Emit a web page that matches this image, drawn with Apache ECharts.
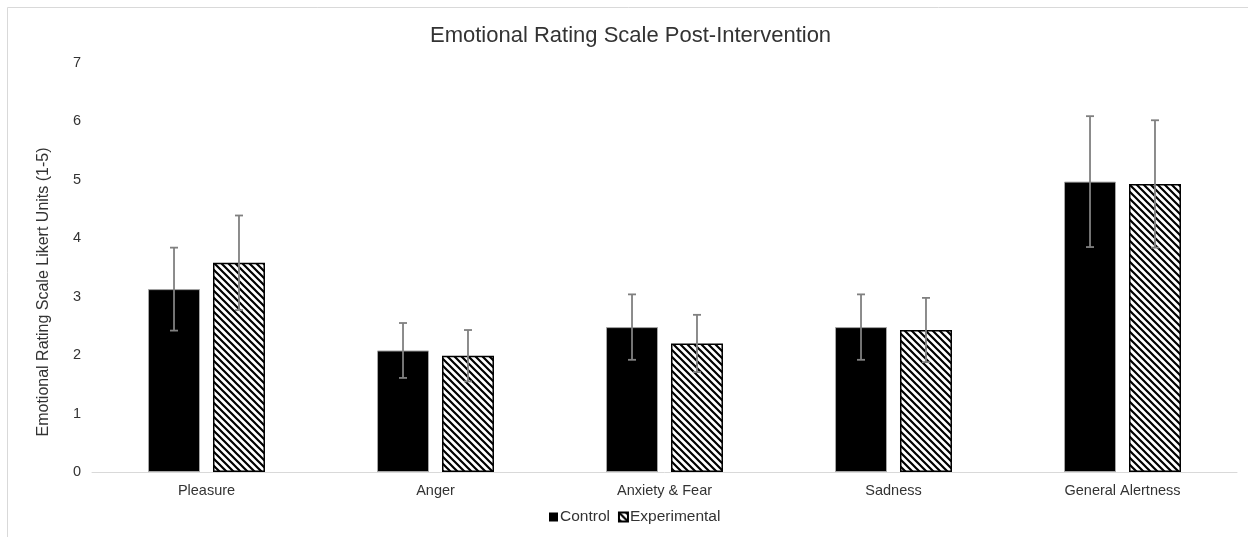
<!DOCTYPE html>
<html>
<head>
<meta charset="utf-8">
<script src="https://cdn.jsdelivr.net/npm/echarts@6/dist/echarts.min.js"></script>
<style>html,body{margin:0;padding:0;background:#fff;}#c{width:1248px;height:537px;}</style>
</head>
<body>
<div id="c"></div>
<script>
var categories = ['Pleasure', 'Anger', 'Anxiety & Fear', 'Sadness', 'General Alertness'];
var controlValues = [3.13, 2.08, 2.48, 2.48, 4.97];
var controlErrors = [0.71, 0.47, 0.56, 0.56, 1.12];
var experimentalValues = [3.58, 1.99, 2.20, 2.43, 4.93];
var experimentalErrors = [0.81, 0.44, 0.49, 0.55, 1.09];
var seriesNames = ['Control', 'Experimental'];
var yTicks = [0, 1, 2, 3, 4, 5, 6, 7];

var FONT = 'Liberation Sans, Arial, sans-serif';

function makeHatch() {
  var s = 7;
  var c = document.createElement('canvas');
  c.width = s; c.height = s;
  var ctx = c.getContext('2d');
  ctx.fillStyle = '#fff';
  ctx.fillRect(0, 0, s, s);
  ctx.strokeStyle = '#000';
  ctx.lineWidth = 2.2;
  ctx.beginPath();
  ctx.moveTo(-s, 0); ctx.lineTo(s, 2 * s);
  ctx.moveTo(0, 0); ctx.lineTo(s, s);
  ctx.moveTo(0, -s); ctx.lineTo(2 * s, s);
  ctx.stroke();
  return c;
}
var hatch = { image: makeHatch(), repeat: 'repeat' };

var BAR_W = 0.227, GAP = 0.25;
function errSeries(values, errors, side) {
  var data = values.map(function (v, i) { return [i, v - errors[i], v + errors[i]]; });
  return {
    type: 'custom',
    z: 10,
    silent: true,
    data: data,
    renderItem: function (params, api) {
      var bw = api.size([1, 0])[0];
      var w = bw * BAR_W;
      var off = side * w * (0.5 + GAP / 2);
      var lo = api.coord([api.value(0), api.value(1)]);
      var hi = api.coord([api.value(0), api.value(2)]);
      var x = lo[0] + off;
      var cap = 4;
      var st = { stroke: '#808080', lineWidth: 1.8 };
      return {
        type: 'group',
        children: [
          { type: 'line', shape: { x1: x, y1: lo[1], x2: x, y2: hi[1] }, style: st },
          { type: 'line', shape: { x1: x - cap, y1: lo[1], x2: x + cap, y2: lo[1] }, style: st },
          { type: 'line', shape: { x1: x - cap, y1: hi[1], x2: x + cap, y2: hi[1] }, style: st }
        ]
      };
    }
  };
}

var chart = echarts.init(document.getElementById('c'), null, { renderer: 'canvas' });
chart.setOption({
  animation: false,
  backgroundColor: '#fff',
  textStyle: { fontFamily: FONT },
  title: {
    text: 'Emotional Rating Scale Post-Intervention',
    left: 425,
    top: 20,
    textStyle: { fontSize: 22, fontWeight: 'normal', color: '#333', fontFamily: FONT }
  },
  graphic: [
    { type: 'rect', shape: { x: 7.5, y: 7.5, width: 1300, height: 600 }, style: { fill: 'none', stroke: '#d9d9d9', lineWidth: 1 }, z: -1 },
    { type: 'text', x: 44, y: 292, rotation: Math.PI / 2,
      style: { text: 'Emotional Rating Scale Likert Units (1-5)', fontSize: 16, fill: '#333', align: 'center', verticalAlign: 'middle', fontFamily: FONT } }
  ],
  legend: {
    bottom: 7,
    left: 544,
    itemWidth: 9,
    itemHeight: 9,
    itemGap: 8,
    icon: 'rect',
    textStyle: { fontSize: 15.5, color: '#333', padding: [0, 0, 0, -3], fontFamily: FONT },
    data: [{ name: seriesNames[0], itemStyle: { borderWidth: 0 } }, { name: seriesNames[1] }]
  },
  grid: { left: 92, right: 11, top: 63, bottom: 65 },
  xAxis: {
    type: 'category',
    data: categories,
    axisLine: { lineStyle: { color: '#d9d9d9', width: 1 } },
    axisTick: { show: false },
    axisLabel: { fontSize: 14.5, color: '#333', margin: 11, fontFamily: FONT }
  },
  yAxis: {
    type: 'value',
    min: yTicks[0],
    max: yTicks[yTicks.length - 1],
    interval: 1,
    axisLine: { show: false },
    axisTick: { show: false },
    splitLine: { show: false },
    axisLabel: { fontSize: 14.5, color: '#333', margin: 11, fontFamily: FONT }
  },
  series: [
    {
      name: seriesNames[0], type: 'bar', data: controlValues,
      barWidth: (BAR_W * 100) + '%', barGap: (GAP * 100) + '%',
      itemStyle: { color: '#000', borderColor: '#a6a6a6', borderWidth: 1 }
    },
    {
      name: seriesNames[1], type: 'bar', data: experimentalValues,
      barWidth: (BAR_W * 100) + '%', barGap: (GAP * 100) + '%',
      itemStyle: { color: hatch, borderColor: '#000', borderWidth: 1.5 }
    },
    errSeries(controlValues, controlErrors, -1),
    errSeries(experimentalValues, experimentalErrors, 1)
  ]
});
</script>
</body>
</html>
